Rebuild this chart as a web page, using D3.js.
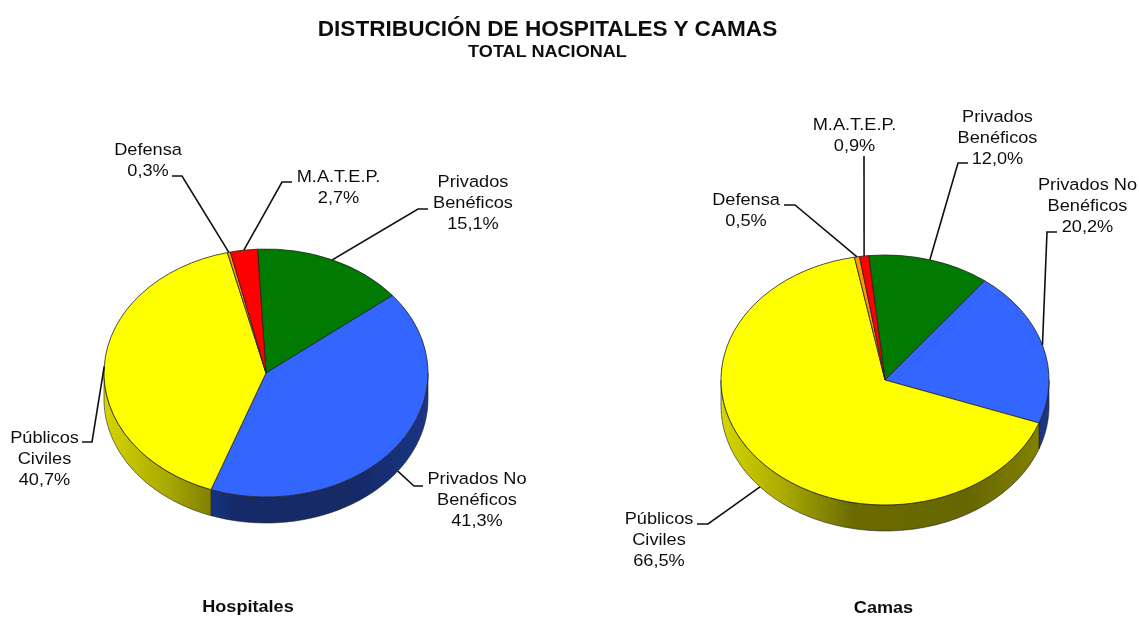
<!DOCTYPE html>
<html><head><meta charset="utf-8">
<script src="https://cdnjs.cloudflare.com/ajax/libs/d3/7.8.5/d3.min.js"></script>
<style>html,body{margin:0;padding:0;background:#fff}svg{display:block}text{font-family:"Liberation Sans",Arial,sans-serif;fill:#111}</style>
</head><body><svg id="c" width="1139" height="617"></svg>
<script>
const categories=["Privados Benéficos","Privados No Benéficos","Públicos Civiles","Defensa","M.A.T.E.P."];
const hospitales=[15.1,41.3,40.7,0.3,2.7];
const camas=[12.0,20.2,66.5,0.5,0.9];
const colors=["#007a00","#3366ff","#ffff00","#ff9900","#ff0000"];
const chartTitle="DISTRIBUCIÓN DE HOSPITALES Y CAMAS";
const chartSubtitle="TOTAL NACIONAL";
const hospLabels=[["Privados","Benéficos","15,1%"],["Privados No","Benéficos","41,3%"],["Públicos","Civiles","40,7%"],["Defensa","0,3%"],["M.A.T.E.P.","2,7%"]];
const camasLabels=[["Privados","Benéficos","12,0%"],["Privados No","Benéficos","20,2%"],["Públicos","Civiles","66,5%"],["Defensa","0,5%"],["M.A.T.E.P.","0,9%"]];

const svg=d3.select("#c");
const defs=svg.append("defs");
defs.append("filter").attr("id","soft").attr("x","-2%").attr("y","-2%").attr("width","104%").attr("height","104%")
  .append("feGaussianBlur").attr("stdDeviation",0.45);
const root=svg.append("g").attr("filter","url(#soft)");
root.append("rect").attr("width",1139).attr("height",617).attr("fill","#fff");
const rad=d=>d*Math.PI/180;
// the reference's text is slightly stretched horizontally
function stretched(parent,x,size,target){
  return parent.append("text").attr("text-anchor","middle").attr("font-size",size)
    .attr("transform",`translate(${x},0) scale(${target/size},1)`);
}
function drawPie(cfg){
  const {values,labels,cx,cy,rx,ry,depth,start,name,nameX,nameY,layout,id}=cfg;
  const pie=d3.pie().sort(null).startAngle(rad(start)).endAngle(rad(start+360))(values);
  const g=root.append("g");
  const px=t=>cx+rx*Math.sin(t), py=t=>cy-ry*Math.cos(t);
  const line=d3.line();
  pie.forEach((d,i)=>{
    const a=Math.max(d.startAngle,Math.PI/2), b=Math.min(d.endAngle,Math.PI*1.5);
    if(b<=a) return;
    const c=d3.rgb(colors[i]);
    const gid=`w${id}${i}`;
    const gr=defs.append("linearGradient").attr("id",gid).attr("gradientUnits","userSpaceOnUse")
      .attr("x1",cx-rx).attr("x2",cx+rx).attr("y1",0).attr("y2",0);
    [[0,.84],[.2,.66],[.4,.42],[.75,.4],[1,.52]].forEach(s=>{
      gr.append("stop").attr("offset",s[0]).attr("stop-color",d3.rgb(c.r*s[1],c.g*s[1],c.b*s[1]));
    });
    const ts=d3.range(0,41).map(k=>a+(b-a)*k/40);
    const pts=ts.map(t=>[px(t),py(t)]).concat(ts.slice().reverse().map(t=>[px(t),py(t)+depth]));
    g.append("path").attr("d",line(pts)+"Z").attr("fill",`url(#${gid})`).attr("stroke","#222").attr("stroke-width",.6);
  });
  const arc=d3.arc().innerRadius(0).outerRadius(rx);
  const top=g.append("g").attr("transform",`translate(${cx},${cy}) scale(1,${ry/rx})`);
  top.selectAll("path").data(pie).join("path").attr("d",arc)
    .attr("fill",(d,i)=>colors[i]).attr("stroke","#222").attr("stroke-width",.8)
    .attr("vector-effect","non-scaling-stroke");
  labels.forEach((lines,i)=>{
    const l=layout[i];
    const mid=(pie[i].startAngle+pie[i].endAngle)/2;
    const d0=l.wall?depth:0;
    g.append("path").attr("fill","none").attr("stroke","#111").attr("stroke-width",1.6)
      .attr("d",line([[px(mid),py(mid)+d0],...l.path]));
    const t=stretched(g,l.x,16.9,18.2);
    lines.forEach((s,k)=>t.append("tspan").attr("x",0).attr("y",l.y+k*21).text(s));
  });
  stretched(g,nameX,16.9,18.1).attr("y",nameY).attr("font-weight","bold").text(name);
}
stretched(root,547.5,21.2,22.6).attr("y",36).attr("font-weight","bold").text(chartTitle);
stretched(root,547.5,16.9,18.1).attr("y",57).attr("font-weight","bold").text(chartSubtitle);
drawPie({id:"h",values:hospitales,labels:hospLabels,cx:266,cy:373,rx:162,ry:124,depth:26,start:-3,name:"Hospitales",nameX:248,nameY:612,
 layout:[
  {x:473,y:187,path:[[418,209],[428,209]]},
  {x:477,y:484,wall:true,path:[[414,486],[423,486]]},
  {x:44.5,y:443,path:[[92,442],[82,442]]},
  {x:148,y:155,path:[[182,176],[172,176]]},
  {x:338.5,y:182,path:[[282,182],[292,182]]}]});
drawPie({id:"c",values:camas,labels:camasLabels,cx:885,cy:380,rx:164,ry:125,depth:26,start:-5.7,name:"Camas",nameX:883.5,nameY:613,
 layout:[
  {x:997.5,y:122,path:[[958,163],[968,163]]},
  {x:1087.5,y:190,path:[[1047,232],[1057,232]]},
  {x:659,y:524,wall:true,path:[[708,524],[697,524]]},
  {x:746,y:205,path:[[795,205],[784,205]]},
  {x:854.5,y:130,path:[[864,156]]}]});
</script></body></html>
